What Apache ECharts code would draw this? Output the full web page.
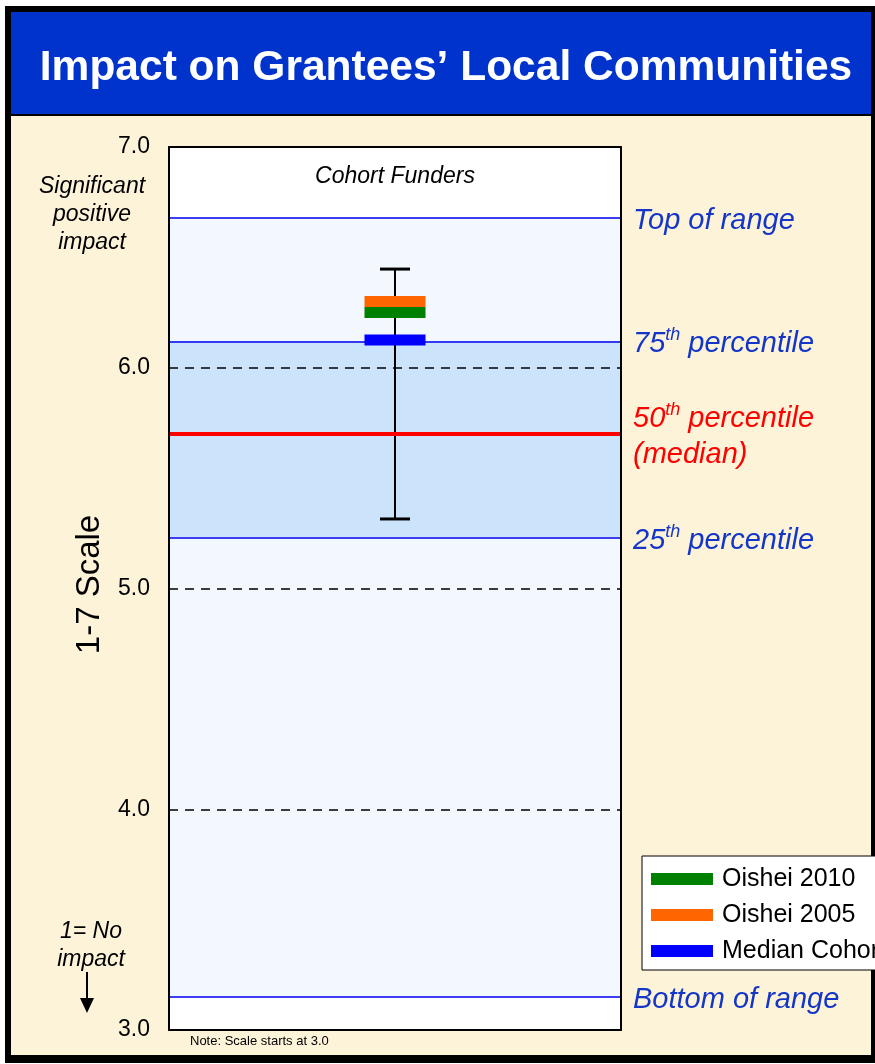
<!DOCTYPE html>
<html>
<head>
<meta charset="utf-8">
<script src="https://cdn.jsdelivr.net/npm/echarts@6/dist/echarts.min.js"></script>
<style>
html,body{margin:0;padding:0;background:#ffffff;}
#c{width:875px;height:1064px;}
</style>
</head>
<body>
<div id="c"></div>
<script>
// ---- data ----
var categories = ['Cohort Funders'];
var yTicks = [3, 4, 5, 6, 7];
var rangeTop = 6.683;
var pct75 = 6.121;
var median = 5.704;
var pct25 = 5.233;
var rangeBottom = 3.149;
var errorLow = [5.315];
var errorHigh = [6.447];
var oishei2010 = [6.25];
var oishei2005 = [6.30];
var medianCohort = [6.126];

var chart = echarts.init(document.getElementById('c'), null, {renderer: 'canvas'});
var FONT = 'Liberation Sans, Arial, sans-serif';
var BLUE_TXT = '#1436C8';

function rangeLabel(color, fmt) {
  return {
    show: true, position: 'end', distance: 12, formatter: fmt,
    fontFamily: FONT, fontSize: 29, fontStyle: 'italic', color: color, lineHeight: 36,
    padding: [6, 0, 0, 0],
    rich: {
      sup: {fontSize: 18, fontStyle: 'italic', color: color, verticalAlign: 'top', padding: [0, 0, 12, 0], fontFamily: FONT},
      n: {fontSize: 29, fontStyle: 'italic', color: color, fontFamily: FONT}
    }
  };
}

var option = {
  animation: false,
  backgroundColor: 'transparent',
  title: {
    text: 'Impact on Grantees\u2019 Local Communities',
    left: 441, top: 42, textAlign: 'center',
    textStyle: {color: '#ffffff', fontFamily: FONT, fontWeight: 'bold', fontSize: 42.5}
  },
  graphic: [
    {type: 'rect', z: -10, silent: true, shape: {x: 5, y: 6, width: 875, height: 1057}, style: {fill: '#000000'}},
    {type: 'rect', z: -9, silent: true, shape: {x: 11, y: 116, width: 860, height: 939}, style: {fill: '#FDF3D8'}},
    {type: 'rect', z: -9, silent: true, shape: {x: 11, y: 12, width: 860, height: 102}, style: {fill: '#0033CC'}},
    {type: 'text', z: 10, silent: true, x: 92, y: 173, style: {text: 'Significant\npositive\nimpact', align: 'center', font: 'italic 23px ' + FONT, fill: '#000', lineHeight: 28}},
    {type: 'text', z: 10, silent: true, x: 91, y: 918, style: {text: '1= No\nimpact', align: 'center', font: 'italic 23px ' + FONT, fill: '#000', lineHeight: 28}},
    {type: 'line', z: 10, silent: true, shape: {x1: 87, y1: 972, x2: 87, y2: 1000}, style: {stroke: '#000', lineWidth: 2}},
    {type: 'polygon', z: 10, silent: true, shape: {points: [[80, 998], [94, 998], [87, 1013]]}, style: {fill: '#000'}},
    {type: 'text', z: 10, silent: true, x: 190, y: 1035, style: {text: 'Note: Scale starts at 3.0', font: '13px ' + FONT, fill: '#000'}}
  ],
  legend: {
    left: 642, top: 856, orient: 'vertical',
    data: ['Oishei 2010', 'Oishei 2005', 'Median Cohort'],
    backgroundColor: '#ffffff', borderColor: '#000000', borderWidth: 1, borderRadius: 0,
    padding: [10, 30, 6, 9], itemGap: 10, itemWidth: 62, itemHeight: 12,
    icon: 'rect',
    textStyle: {fontFamily: FONT, fontSize: 25, lineHeight: 26, color: '#000', padding: [0, 0, 0, 4]}
  },
  grid: {left: 169, right: 254, top: 147, bottom: 34, show: true, backgroundColor: '#ffffff', borderWidth: 0},
  xAxis: [
    {type: 'category', data: categories, position: 'top', z: 5,
     axisLine: {show: true, lineStyle: {color: '#000', width: 2}},
     axisTick: {show: false},
     axisLabel: {show: true, inside: true, margin: 18, fontFamily: FONT, fontSize: 23, fontStyle: 'italic', color: '#000'},
     splitLine: {show: false}},
    {type: 'category', data: categories, position: 'bottom', z: 5,
     axisLine: {show: true, lineStyle: {color: '#000', width: 2}},
     axisTick: {show: false}, axisLabel: {show: false}, splitLine: {show: false}}
  ],
  yAxis: [
    {type: 'value', min: 3, max: 7, interval: 1, position: 'left', z: 5,
     name: '1-7 Scale', nameLocation: 'middle', nameGap: 63, nameRotate: 90,
     nameTextStyle: {fontFamily: FONT, fontSize: 33, color: '#000', padding: [0, 0, 0, 8]},
     axisLine: {show: true, lineStyle: {color: '#000', width: 2}},
     axisTick: {show: false},
     axisLabel: {margin: 19, fontFamily: FONT, fontSize: 23, color: '#000', formatter: function (v) { return v.toFixed(1); }},
     splitLine: {show: true, lineStyle: {color: '#000', type: [9, 7], width: 1.5}}},
    {type: 'value', min: 3, max: 7, interval: 1, position: 'right', z: 5,
     axisLine: {show: true, lineStyle: {color: '#000', width: 2}},
     axisTick: {show: false}, axisLabel: {show: false}, splitLine: {show: false}}
  ],
  series: [
    {
      name: 'bands', type: 'line', data: [], z: 1, silent: true,
      markArea: {
        silent: true,
        data: [
          [{yAxis: pct75, itemStyle: {color: '#F3F7FE'}}, {yAxis: rangeTop}],
          [{yAxis: pct25, itemStyle: {color: '#CCE4FB'}}, {yAxis: pct75}],
          [{yAxis: rangeBottom, itemStyle: {color: '#F3F7FE'}}, {yAxis: pct25}]
        ]
      },
      markLine: {
        silent: true, symbol: 'none',
        data: [
          {yAxis: rangeTop, lineStyle: {color: '#0000EE', width: 1.5, type: 'solid'}, label: rangeLabel(BLUE_TXT, 'Top of range')},
          {yAxis: pct75, lineStyle: {color: '#0000EE', width: 1.5, type: 'solid'}, label: rangeLabel(BLUE_TXT, '{n|75}{sup|th}{n| percentile}')},
          {yAxis: median, lineStyle: {color: '#FF0000', width: 4, type: 'solid'}, label: rangeLabel('#FF0000', '{n|50}{sup|th}{n| percentile}\n{n|(median)}')},
          {yAxis: pct25, lineStyle: {color: '#0000EE', width: 1.5, type: 'solid'}, label: rangeLabel(BLUE_TXT, '{n|25}{sup|th}{n| percentile}')},
          {yAxis: rangeBottom, lineStyle: {color: '#0000EE', width: 1.5, type: 'solid'}, label: rangeLabel(BLUE_TXT, 'Bottom of range')}
        ]
      }
    },
    {
      name: 'range', type: 'custom', z: 3, silent: true,
      data: categories.map(function (c, i) { return [i, errorLow[i], errorHigh[i]]; }),
      encode: {x: 0, y: [1, 2]},
      renderItem: function (params, api) {
        var lo = api.coord([api.value(0), api.value(1)]);
        var hi = api.coord([api.value(0), api.value(2)]);
        var half = 15;
        var st = {stroke: '#000', lineWidth: 2};
        return {type: 'group', children: [
          {type: 'line', shape: {x1: lo[0], y1: lo[1], x2: hi[0], y2: hi[1]}, style: st},
          {type: 'line', shape: {x1: lo[0] - half, y1: lo[1], x2: lo[0] + half, y2: lo[1]}, style: {stroke: '#000', lineWidth: 3}},
          {type: 'line', shape: {x1: hi[0] - half, y1: hi[1], x2: hi[0] + half, y2: hi[1]}, style: {stroke: '#000', lineWidth: 3}}
        ]};
      }
    },
    {name: 'Oishei 2010', type: 'scatter', z: 4, symbol: 'rect', symbolSize: [61, 11], itemStyle: {color: '#008000', opacity: 1},
     data: categories.map(function (c, i) { return [c, oishei2010[i]]; })},
    {name: 'Oishei 2005', type: 'scatter', z: 4, symbol: 'rect', symbolSize: [61, 11], itemStyle: {color: '#FF6600', opacity: 1},
     data: categories.map(function (c, i) { return [c, oishei2005[i]]; })},
    {name: 'Median Cohort', type: 'scatter', z: 4, symbol: 'rect', symbolSize: [61, 11], itemStyle: {color: '#0000FF', opacity: 1},
     data: categories.map(function (c, i) { return [c, medianCohort[i]]; })}
  ]
};
chart.setOption(option);
</script>
</body>
</html>
